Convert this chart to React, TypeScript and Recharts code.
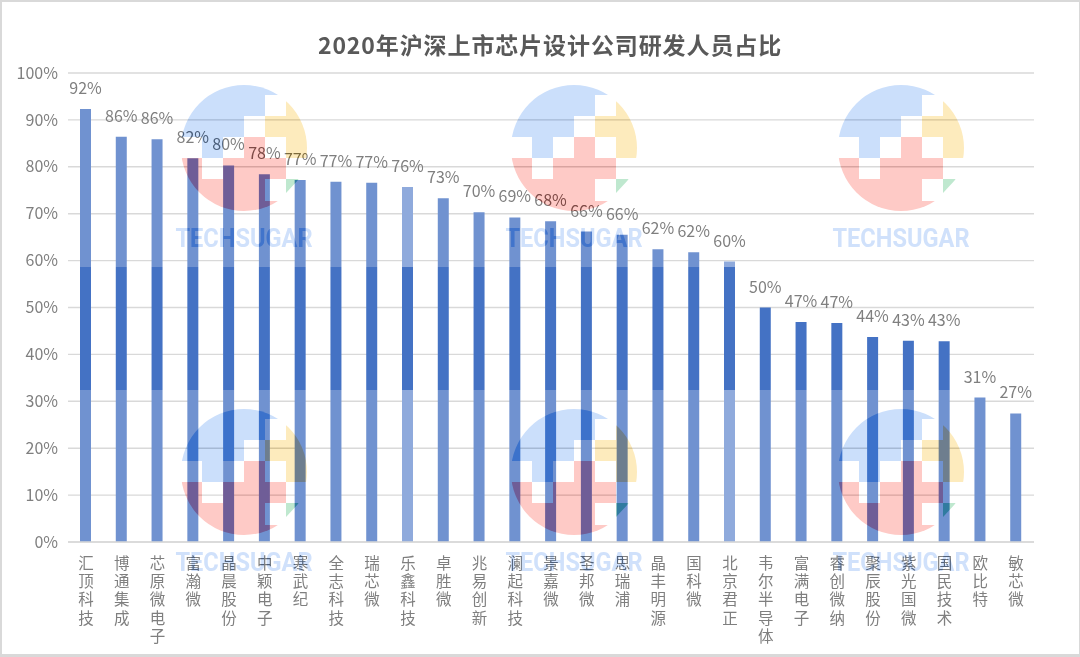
import React from "react";
import { BarChart, Bar, XAxis, YAxis, CartesianGrid, Cell, LabelList } from "recharts";

const categories = [
  "汇顶科技", "博通集成", "芯原微电子", "富瀚微", "晶晨股份", "中颖电子", "寒武纪", "全志科技", "瑞芯微",
  "乐鑫科技", "卓胜微", "兆易创新", "澜起科技", "景嘉微", "圣邦微", "思瑞浦", "晶丰明源", "国科微",
  "北京君正", "韦尔半导体", "富满电子", "睿创微纳", "聚辰股份", "紫光国微", "国民技术", "欧比特", "敏芯微",
];
const shares = [
  92.3, 86.4, 85.9, 81.8, 80.3, 78.4, 77.2, 76.8, 76.6,
  75.7, 73.3, 70.3, 69.2, 68.4, 66.2, 65.5, 62.4, 61.8,
  59.8, 50, 46.9, 46.7, 43.7, 42.9, 42.8, 30.8, 27.4,
];
const paleBars = ["乐鑫科技", "北京君正"];
const yTicks = [0, 10, 20, 30, 40, 50, 60, 70, 80, 90, 100];
const logoCentres = [
  [244, 148], [574, 148], [901, 148],
  [244, 472], [574, 472], [901, 472],
];

const W = 1080;
const H = 657;
const GREY = "#7f7f7f";
const FONT = "'Noto Sans CJK SC', sans-serif";

const chartData = categories.map((name, i) => ({ name, value: shares[i] }));

function CategoryTick({ x, y, payload }: any) {
  const chars: string[] = Array.from(payload.value);
  return (
    <text x={x} y={y} textAnchor="middle" fontSize={15.5} fontFamily={FONT} fill={GREY}>
      {chars.map((c, i) => (
        <tspan key={i} x={x} y={y + 19 + i * 18.2}>{c}</tspan>
      ))}
    </text>
  );
}

function BandGradient({ id, color }: { id: string; color: string }) {
  // darker strip across the bars, in page coordinates
  return (
    <linearGradient id={id} gradientUnits="userSpaceOnUse" x1="0" y1="0" x2="0" y2={H}>
      <stop offset={267 / H} stopColor={color} />
      <stop offset={267 / H} stopColor="#4472c4" />
      <stop offset={390 / H} stopColor="#4472c4" />
      <stop offset={390 / H} stopColor={color} />
    </linearGradient>
  );
}

function Logo({ cx, cy, id }: { cx: number; cy: number; id: string }) {
  const r = (x: number, y: number, w: number, h: number, fill: string) => (
    <rect x={cx + x} y={cy + y} width={w} height={h} fill={fill} />
  );
  const blue = "#cbdffb";
  const yellow = "#fdebbd";
  const red = "#fecac6";
  const green = "#bfe8cf";
  return (
    <g>
      <clipPath id={id}>
        <circle cx={cx} cy={cy} r={63} />
      </clipPath>
      <g clipPath={`url(#${id})`}>
        {r(-63, -63, 84, 31, blue)}
        {r(21, -63, 21, 10, blue)}
        {r(-63, -32, 63, 21, blue)}
        {r(-42, -11, 21, 21, blue)}
        {r(21, -32, 21, 21, yellow)}
        {r(42, -50, 21, 60, yellow)}
        {r(0, -11, 21, 21, red)}
        {r(-63, 10, 21, 21, red)}
        {r(-21, 10, 63, 21, red)}
        {r(-63, 31, 84, 22, red)}
        {r(-63, 53, 105, 10, red)}
        <polygon points={`${cx + 42},${cy + 31} ${cx + 55},${cy + 31} ${cx + 42},${cy + 45}`} fill={green} />
      </g>
      <text
        x={cx}
        y={cy + 99}
        textAnchor="middle"
        fontFamily="Roboto, sans-serif"
        fontWeight={700}
        fontSize={25}
        textLength={137}
        lengthAdjust="spacingAndGlyphs"
        fill="#d0e1fb"
      >
        TECHSUGAR
      </text>
    </g>
  );
}

function Watermark({ mode, prefix }: { mode: "color-burn" | "multiply"; prefix: string }) {
  return (
    <svg
      width={W}
      height={H}
      style={{ position: "absolute", left: 0, top: 0, mixBlendMode: mode, pointerEvents: "none" }}
    >
      {logoCentres.map(([cx, cy], i) => (
        <Logo key={i} cx={cx} cy={cy} id={`${prefix}${i}`} />
      ))}
    </svg>
  );
}

export default function App() {
  return (
    <div style={{ position: "absolute", left: 0, top: 0, width: W, height: H, background: "#fff", overflow: "hidden" }}>
      <BarChart
        width={W}
        height={H}
        data={chartData}
        margin={{ top: 73, right: 46, bottom: 0, left: 0 }}
        barCategoryGap="65%"
      >
        <defs>
          <BandGradient id="barFill" color="#7092d0" />
          <BandGradient id="barFillPale" color="#8faadc" />
        </defs>
        <text x={550} y={54} textAnchor="middle" fontFamily={FONT} fontWeight={700} fontSize={23} letterSpacing={0.9} fill="#595959">
          2020年沪深上市芯片设计公司研发人员占比
        </text>
        <CartesianGrid horizontal vertical={false} stroke="#d9d9d9" strokeWidth={1.4} />
        <XAxis
          dataKey="name"
          interval={0}
          height={115}
          tick={<CategoryTick />}
          tickLine={false}
          axisLine={{ stroke: "#d9d9d9", strokeWidth: 1.4 }}
        />
        <YAxis
          width={68}
          domain={[0, 100]}
          ticks={yTicks}
          tickFormatter={(v) => `${v}%`}
          tick={{ fontSize: 16, fontFamily: FONT, fill: GREY }}
          tickLine={false}
          axisLine={false}
          tickMargin={4}
        />
        <Bar dataKey="value" barSize={11} isAnimationActive={false}>
          {chartData.map((d) => (
            <Cell key={d.name} fill={paleBars.includes(d.name) ? "url(#barFillPale)" : "url(#barFill)"} />
          ))}
          <LabelList
            dataKey="value"
            position="top"
            offset={15}
            formatter={(v: any) => `${Math.round(v)}%`}
            style={{ fontSize: 16, fontFamily: FONT, fill: GREY }}
          />
        </Bar>
      </BarChart>
      <Watermark mode="color-burn" prefix="burn" />
      <Watermark mode="multiply" prefix="mult" />
      <div style={{ position: "absolute", inset: 0, boxSizing: "border-box", borderStyle: "solid", borderColor: "#d9d9d9", borderWidth: "2px 1px 3px 2px", pointerEvents: "none" }} />
    </div>
  );
}
